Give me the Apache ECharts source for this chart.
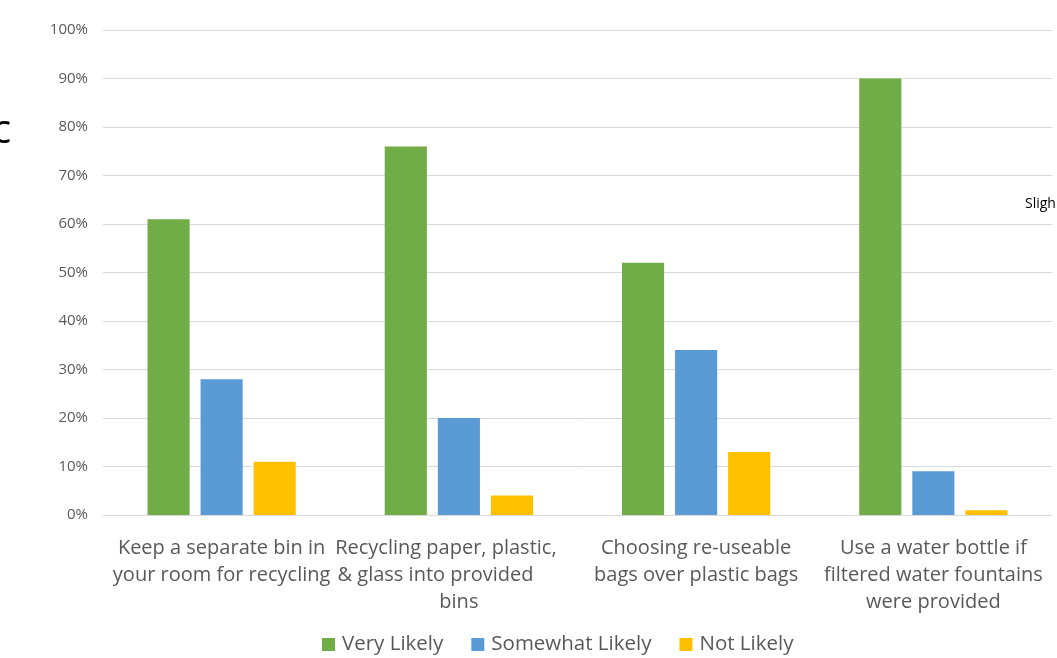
<!DOCTYPE html>
<html>
<head>
<meta charset="utf-8">
<script src="https://cdn.jsdelivr.net/npm/echarts@6/dist/echarts.min.js"></script>
<style>
  html, body { margin: 0; padding: 0; background: #fff; }
  #chart { width: 1057px; height: 658px; }
</style>
</head>
<body>
<div id="chart"></div>
<script>
// Survey answers: share of respondents per habit
const categories = [
  'Keep a separate bin in\nyour room for recycling',
  'Recycling paper, plastic,     \n& glass into provided         \nbins',
  'Choosing re-useable\nbags over plastic bags',
  'Use a water bottle if\nfiltered water fountains\nwere provided'
];
const seriesNames = ['Very Likely', 'Somewhat Likely', 'Not Likely'];
const veryLikely = [61, 76, 52, 90];
const somewhatLikely = [28, 20, 34, 9];
const notLikely = [11, 4, 13, 1];
const yTicks = [0, 10, 20, 30, 40, 50, 60, 70, 80, 90, 100];

const colors = ['#70AD47', '#5B9BD5', '#FFC000'];
const font = '"Open Sans", "Liberation Sans", sans-serif';

const chart = echarts.init(document.getElementById('chart'), null, { renderer: 'canvas' });

chart.setOption({
  animation: false,
  color: colors,
  grid: { left: 103, right: 5, top: 30, bottom: 143, containLabel: false },
  legend: {
    data: seriesNames,
    top: 634,
    left: 322,
    padding: 0,
    itemWidth: 13,
    itemHeight: 13,
    itemGap: 28,
    icon: 'rect',
    textStyle: { color: '#595959', fontSize: 20.5, fontFamily: font, padding: [0, 0, 0, 2] }
  },
  xAxis: {
    type: 'category',
    data: categories,
    axisLine: { lineStyle: { color: '#D9D9D9', width: 1 } },
    axisTick: { show: false },
    axisLabel: {
      color: '#595959',
      fontSize: 20,
      fontFamily: font,
      lineHeight: 27,
      margin: 20,
      interval: 0
    }
  },
  yAxis: {
    type: 'value',
    min: yTicks[0],
    max: yTicks[yTicks.length - 1],
    interval: 10,
    axisLine: { show: false },
    axisTick: { show: false },
    splitLine: { lineStyle: { color: '#D9D9D9', width: 1 } },
    axisLabel: {
      color: '#595959',
      fontSize: 15,
      fontFamily: font,
      margin: 15,
      formatter: v => v + '%'
    }
  },
  series: [
    { name: seriesNames[0], type: 'bar', data: veryLikely, barGap: '26%', barCategoryGap: '37.5%' },
    { name: seriesNames[1], type: 'bar', data: somewhatLikely },
    { name: seriesNames[2], type: 'bar', data: notLikely }
  ],
  graphic: [
    {
      type: 'text', left: -8, top: 112,
      style: { text: 'c', fill: '#000', font: '40px ' + font }
    },
    {
      type: 'text', left: 1025, top: 197,
      style: { text: 'Sligh', fill: '#000', font: '14px ' + font }
    }
  ]
});
</script>
</body>
</html>
